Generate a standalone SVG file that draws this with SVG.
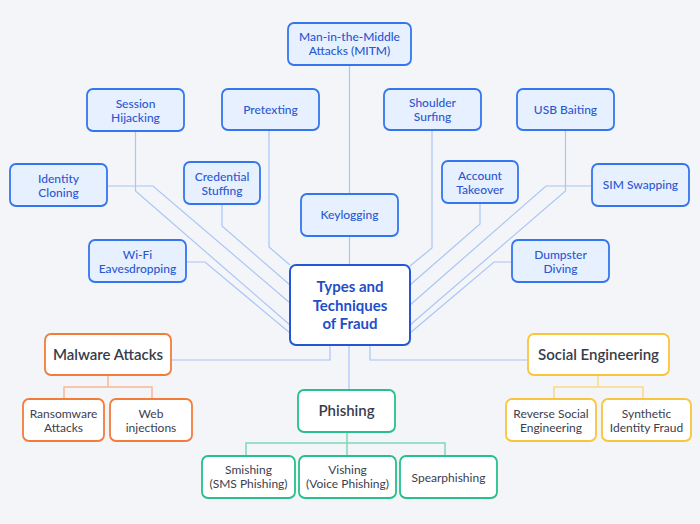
<svg xmlns="http://www.w3.org/2000/svg" width="700" height="524" viewBox="0 0 700 524">
<style>
.bg{fill:#f3f5f9}
.bn rect{fill:#e7f0fe;stroke:#3476f0;stroke-width:1.8}
.bn text{fill:#2b58d0;font-family:Lato,"Open Sans",sans-serif;font-size:12px;font-weight:500;text-anchor:middle}
.core rect{fill:#ffffff;stroke:#2456d8;stroke-width:2}
.core text{fill:#1f4fc8;font-family:Lato,"Open Sans",sans-serif;font-size:15px;font-weight:bold;text-anchor:middle}
.cat rect{fill:#ffffff;stroke-width:1.8}
.cat text{fill:#363c4b;font-family:Lato,"Open Sans",sans-serif;font-size:15px;font-weight:600;text-anchor:middle}
.sub rect{fill:#ffffff;stroke-width:1.8}
.sub text{fill:#3a4050;font-family:Lato,"Open Sans",sans-serif;font-size:12px;text-anchor:middle}
.or rect{stroke:#f47c3a}
.gr rect{stroke:#26c08b}
.ye rect{stroke:#f9c53c}
.lb{fill:none;stroke:#aac6f6;stroke-width:1.2}
.lo{fill:none;stroke:#f8b892;stroke-width:1.5}
.lg{fill:none;stroke:#7ed8b7;stroke-width:1.5}
.ly{fill:none;stroke:#fbd985;stroke-width:1.5}
</style>
<rect class="bg" x="0" y="0" width="700" height="524"/>
<g id="connectors">
<path class="lb" d="M349.5 65 V265"/>
<path class="lb" d="M269 130 V247 L290 265"/>
<path class="lb" d="M222 204 V226 L290 285"/>
<path class="lb" d="M107 186 H153 L290 303"/>
<path class="lb" d="M135.5 131 V191 L290 325"/>
<path class="lb" d="M186 262 H205 L290 333"/>
<path class="lb" d="M432 130 V248 L410 266"/>
<path class="lb" d="M480 203 V224 L410 285"/>
<path class="lb" d="M592 186 H546 L410 305"/>
<path class="lb" d="M565.5 130 V191 L410 325"/>
<path class="lb" d="M512 262 H494 L410 333"/>
<path class="lb" d="M330 345 V360 H171"/>
<path class="lb" d="M370 345 V360 H528"/>
<path class="lb" d="M349 345 V390"/>
<path class="lo" d="M108 375 V387 M64 399 V387 H152 V399"/>
<path class="lg" d="M347 432 V456 M246 456 V443 H445 V456"/>
<path class="ly" d="M598 375 V387 M554 399 V387 H643 V399"/>
</g>
<g id="mitm" class="bn"><rect x="288" y="23" width="123" height="42" rx="6"/><text x="349.5" y="41">Man-in-the-Middle</text><text x="349.5" y="54.5">Attacks (MITM)</text></g>
<g id="session" class="bn"><rect x="87" y="89" width="97" height="42" rx="6"/><text x="135.5" y="108">Session</text><text x="135.5" y="121.5">Hijacking</text></g>
<g id="pretexting" class="bn"><rect x="222" y="89" width="97" height="41" rx="6"/><text x="270.5" y="114">Pretexting</text></g>
<g id="shoulder" class="bn"><rect x="384" y="89" width="97" height="41" rx="6"/><text x="432.5" y="107">Shoulder</text><text x="432.5" y="120.5">Surfing</text></g>
<g id="usb" class="bn"><rect x="517" y="89" width="97" height="41" rx="6"/><text x="565.5" y="114">USB Baiting</text></g>
<g id="identity" class="bn"><rect x="10" y="164" width="97" height="42" rx="6"/><text x="58.5" y="183">Identity</text><text x="58.5" y="196.5">Cloning</text></g>
<g id="credential" class="bn"><rect x="184" y="162" width="76" height="42" rx="6"/><text x="222" y="181">Credential</text><text x="222" y="194.5">Stuffing</text></g>
<g id="keylogging" class="bn"><rect x="301" y="194" width="97" height="42" rx="6"/><text x="349.5" y="219">Keylogging</text></g>
<g id="account" class="bn"><rect x="442" y="161" width="76" height="42" rx="6"/><text x="480" y="180">Account</text><text x="480" y="193.5">Takeover</text></g>
<g id="sim" class="bn"><rect x="592" y="164" width="97" height="42" rx="6"/><text x="640.5" y="189">SIM Swapping</text></g>
<g id="wifi" class="bn"><rect x="89" y="240" width="97" height="42" rx="6"/><text x="137.5" y="259">Wi-Fi</text><text x="137.5" y="272.5">Eavesdropping</text></g>
<g id="dumpster" class="bn"><rect x="512" y="240" width="97" height="42" rx="6"/><text x="560.5" y="259">Dumpster</text><text x="560.5" y="272.5">Diving</text></g>
<g id="core" class="core"><rect x="290" y="265" width="120" height="80" rx="6"/><text x="350" y="292">Types and</text><text x="350" y="311">Techniques</text><text x="350" y="329">of Fraud</text></g>
<g id="malware" class="cat or"><rect x="45" y="334" width="126" height="41" rx="6"/><text x="108" y="360">Malware Attacks</text></g>
<g id="ransomware" class="sub or"><rect x="23" y="399" width="81" height="42" rx="6"/><text x="63.5" y="418">Ransomware</text><text x="63.5" y="432">Attacks</text></g>
<g id="webinj" class="sub or"><rect x="110" y="399" width="82" height="42" rx="6"/><text x="151" y="418">Web</text><text x="151" y="432">injections</text></g>
<g id="phishing" class="cat gr"><rect x="298" y="390" width="97" height="42" rx="6"/><text x="346.5" y="416">Phishing</text></g>
<g id="smishing" class="sub gr"><rect x="202" y="456" width="93" height="42" rx="6"/><text x="248.5" y="474">Smishing</text><text x="248.5" y="488">(SMS Phishing)</text></g>
<g id="vishing" class="sub gr"><rect x="299" y="456" width="97" height="42" rx="6"/><text x="347.5" y="474">Vishing</text><text x="347.5" y="488">(Voice Phishing)</text></g>
<g id="spear" class="sub gr"><rect x="400" y="456" width="97" height="42" rx="6"/><text x="448.5" y="482">Spearphishing</text></g>
<g id="social" class="cat ye"><rect x="528" y="334" width="141" height="41" rx="6"/><text x="598.5" y="360">Social Engineering</text></g>
<g id="reverse" class="sub ye"><rect x="506" y="399" width="90" height="42" rx="6"/><text x="551" y="418">Reverse Social</text><text x="551" y="432">Engineering</text></g>
<g id="synthetic" class="sub ye"><rect x="602" y="399" width="89" height="42" rx="6"/><text x="646.5" y="418">Synthetic</text><text x="646.5" y="432">Identity Fraud</text></g>
</svg>
